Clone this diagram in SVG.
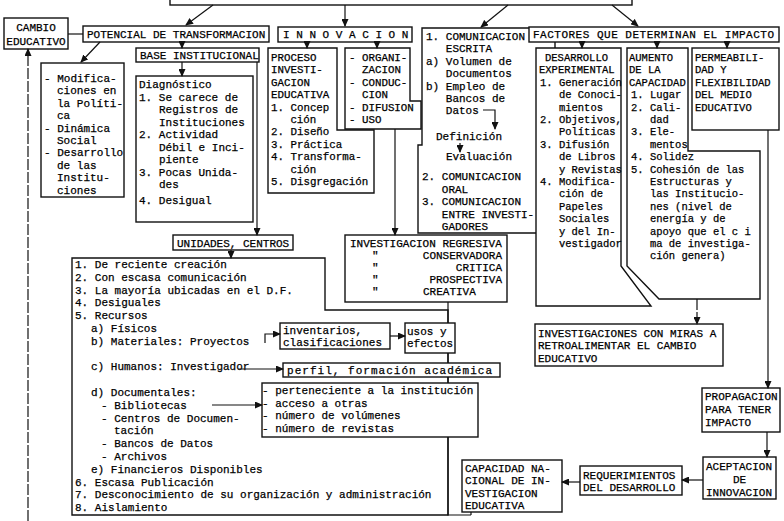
<svg xmlns="http://www.w3.org/2000/svg" width="784" height="521" viewBox="0 0 784 521">
<style>
.t{font-family:"Liberation Mono","DejaVu Sans Mono",monospace;font-size:11px;fill:#000;stroke:#000;stroke-width:0.25}
.s{font-size:10.5px}
.m{font-size:10.8px}
.b{fill:#fff;stroke:#111;stroke-width:1.4}
.c{fill:none;stroke:#111;stroke-width:1.2}
.d{stroke-dasharray:11 2}
</style>
<defs>
<marker id="ah" markerWidth="8" markerHeight="7" refX="7" refY="3.5" orient="auto" markerUnits="userSpaceOnUse"><path d="M0,0 L8,3.5 L0,7 z" fill="#111"/></marker>
</defs>
<rect width="784" height="521" fill="#fff"/>

<g id="top"><rect class="b" x="170" y="-10" width="462" height="15"/></g>

<g id="cambio"><rect class="b" x="4" y="18" width="64" height="31"/>
<text class="t" x="36" y="31" text-anchor="middle">CAMBIO</text>
<text class="t" x="36" y="45" text-anchor="middle">EDUCATIVO</text></g>

<g id="potencial"><rect class="b" x="83" y="26" width="186" height="16"/>
<text class="t" x="87" y="38">POTENCIAL DE TRANSFORMACION</text></g>

<g id="modif"><rect class="b" x="41" y="63" width="83" height="134"/>
<text class="t" x="44" y="82">- Modifica-</text>
<text class="t" x="57" y="94.4">ciones en</text>
<text class="t" x="57" y="106.8">la Políti-</text>
<text class="t" x="57" y="119.2">ca</text>
<text class="t" x="44" y="131.6">- Dinámica</text>
<text class="t" x="57" y="144">Social</text>
<text class="t" x="44" y="156.4">- Desarrollo</text>
<text class="t" x="57" y="168.8">de las</text>
<text class="t" x="57" y="181.2">Institu-</text>
<text class="t" x="57" y="193.6">ciones</text></g>

<g id="base"><rect class="b" x="136" y="48" width="123" height="14"/>
<text class="t" x="140" y="59">BASE INSTITUCIONAL</text></g>

<g id="diag"><rect class="b" x="136" y="76" width="117" height="146"/>
<text class="t" x="139" y="88">Diagnóstico</text>
<text class="t" x="139" y="100.5">1. Se carece de</text>
<text class="t" x="159" y="113">Registros de</text>
<text class="t" x="159" y="125.5">Instituciones</text>
<text class="t" x="139" y="138">2. Actividad</text>
<text class="t" x="159" y="150.5">Débil e Inci-</text>
<text class="t" x="159" y="163">piente</text>
<text class="t" x="139" y="175.5">3. Pocas Unida-</text>
<text class="t" x="159" y="188">des</text>
<text class="t" x="139" y="204">4. Desigual</text></g>

<g id="innovacion"><rect class="b" x="278" y="27" width="134" height="15"/>
<text class="t" x="283" y="38">I N N O V A C I O N</text></g>

<g id="proceso"><path class="b" d="M268,48 H337 V130 H374 V193 H268 Z"/>
<text class="t m" x="271" y="61">PROCESO</text>
<text class="t m" x="271" y="73.4">INVESTI-</text>
<text class="t m" x="271" y="85.8">GACION</text>
<text class="t m" x="271" y="98.2">EDUCATIVA</text>
<text class="t m" x="271" y="110.6">1. Concep</text>
<text class="t m" x="290.4" y="123">ción</text>
<text class="t m" x="271" y="135.4">2. Diseño</text>
<text class="t m" x="271" y="147.8">3. Práctica</text>
<text class="t m" x="271" y="160.2">4. Transforma-</text>
<text class="t m" x="290.4" y="172.6">ción</text>
<text class="t m" x="271" y="185">5. Disgregación</text></g>

<g id="organi"><path class="b" d="M345,48 H410 V101 H421 V129 H345 Z"/>
<text class="t m" x="349" y="61">- ORGANI-</text>
<text class="t m" x="362" y="73.4">ZACION</text>
<text class="t m" x="349" y="85.8">- CONDUC-</text>
<text class="t m" x="362" y="98.2">CION</text>
<text class="t m" x="349" y="110.6">- DIFUSION</text>
<text class="t m" x="349" y="123">- USO</text></g>

<g id="comunicacion"><path class="b" d="M422,28 H555 V233 H418 V145 H422 Z"/>
<text class="t" x="426" y="40">1. COMUNICACION</text>
<text class="t" x="445.8" y="52.4">ESCRITA</text>
<text class="t" x="426" y="64.8">a) Volumen de</text>
<text class="t" x="445.8" y="77.2">Documentos</text>
<text class="t" x="426" y="89.6">b) Empleo de</text>
<text class="t" x="445.8" y="102">Bancos de</text>
<text class="t" x="445.8" y="114.4">Datos</text>
<text class="t" x="436" y="140">Definición</text>
<text class="t" x="446" y="160">Evaluación</text>
<text class="t" x="422" y="180">2. COMUNICACION</text>
<text class="t" x="441.8" y="192.5">ORAL</text>
<text class="t" x="422" y="205">3. COMUNICACION</text>
<text class="t" x="441.8" y="217.5">ENTRE INVESTI-</text>
<text class="t" x="441.8" y="230">GADORES</text></g>

<g id="factores"><rect class="b" x="529" y="27" width="250" height="15"/>
<text class="t" x="533" y="38" textLength="241" lengthAdjust="spacing">FACTORES QUE DETERMINAN EL IMPACTO</text></g>

<g id="desarrollo"><path class="b" d="M536,48 H621 V266 L651,306 H536 Z"/>
<text class="t s" x="545" y="61">DESARROLLO</text>
<text class="t s" x="539" y="73.4">EXPERIMENTAL</text>
<text class="t s" x="540" y="85.8">1. Generación</text>
<text class="t s" x="558.9" y="98.2">de Conoci-</text>
<text class="t s" x="558.9" y="110.6">mientos</text>
<text class="t s" x="540" y="123">2. Objetivos,</text>
<text class="t s" x="558.9" y="135.4">Políticas</text>
<text class="t s" x="540" y="147.8">3. Difusión</text>
<text class="t s" x="558.9" y="160.2">de Libros</text>
<text class="t s" x="558.9" y="172.6">y Revistas</text>
<text class="t s" x="540" y="185">4. Modifica-</text>
<text class="t s" x="558.9" y="197.4">ción de</text>
<text class="t s" x="558.9" y="209.8">Papeles</text>
<text class="t s" x="558.9" y="222.2">Sociales</text>
<text class="t s" x="558.9" y="234.6">y del In-</text>
<text class="t s" x="558.9" y="247">vestigador</text></g>

<g id="aumento"><path class="b" d="M627,48 H688 V151 H760 V299 H659 L627,266 Z"/>
<text class="t s" x="629" y="61">AUMENTO</text>
<text class="t s" x="629" y="73.4">DE LA</text>
<text class="t s" x="629" y="85.8">CAPACIDAD</text>
<text class="t s" x="631" y="98.2">1. Lugar</text>
<text class="t s" x="631" y="110.6">2. Cali-</text>
<text class="t s" x="649.9" y="123">dad</text>
<text class="t s" x="631" y="135.4">3. Ele-</text>
<text class="t s" x="649.9" y="147.8">mentos</text>
<text class="t s" x="631" y="160.2">4. Solidez</text>
<text class="t s" x="631" y="172.6">5. Cohesión de las</text>
<text class="t s" x="649.9" y="185">Estructuras y</text>
<text class="t s" x="649.9" y="197.4">las Institucio-</text>
<text class="t s" x="649.9" y="209.8">nes (nivel de</text>
<text class="t s" x="649.9" y="222.2">energía y de</text>
<text class="t s" x="649.9" y="234.6">apoyo que el c i</text>
<text class="t s" x="649.9" y="247">ma de investiga-</text>
<text class="t s" x="649.9" y="259.4">ción genera)</text></g>

<g id="permeabilidad"><rect class="b" x="692" y="48" width="87" height="82"/>
<text class="t s" x="695" y="61">PERMEABILI-</text>
<text class="t s" x="695" y="73.4">DAD Y</text>
<text class="t s" x="695" y="85.8">FLEXIBILIDAD</text>
<text class="t s" x="695" y="98.2">DEL MEDIO</text>
<text class="t s" x="695" y="110.6">EDUCATIVO</text></g>

<g id="investigaciones-miras"><rect class="b" x="535" y="324" width="188" height="42"/>
<text class="t" x="538" y="336.5">INVESTIGACIONES CON MIRAS A</text>
<text class="t" x="538" y="349">RETROALIMENTAR EL CAMBIO</text>
<text class="t" x="538" y="361.5">EDUCATIVO</text></g>

<g id="unidades"><rect class="b" x="173" y="235" width="120" height="15"/>
<text class="t" x="177" y="246.5">UNIDADES, CENTROS</text></g>

<g id="regresiva"><rect class="b" x="345" y="235" width="162" height="67"/>
<text class="t" x="350" y="247">INVESTIGACION REGRESIVA</text>
<text class="t" x="372" y="259">"</text>
<text class="t" x="372" y="271">"</text>
<text class="t" x="372" y="283">"</text>
<text class="t" x="372" y="295">"</text>
<text class="t" x="502" y="259" text-anchor="end">CONSERVADORA</text>
<text class="t" x="502" y="271" text-anchor="end">CRITICA</text>
<text class="t" x="502" y="283" text-anchor="end">PROSPECTIVA</text>
<text class="t" x="423" y="295">CREATIVA</text></g>

<g id="recursos"><path class="b" d="M72,258 H325 V310 H448 V515 H72 Z"/>
<text class="t" x="75" y="268">1. De reciente creación</text>
<text class="t" x="75" y="280.8">2. Con escasa comunicación</text>
<text class="t" x="75" y="293.6">3. La mayoría ubicadas en el D.F.</text>
<text class="t" x="75" y="306.4">4. Desiguales</text>
<text class="t" x="75" y="319.2">5. Recursos</text>
<text class="t" x="91" y="332">a) Físicos</text>
<text class="t" x="91" y="344.8">b) Materiales: Proyectos</text>
<text class="t" x="91" y="370.4">c) Humanos: Investigador</text>
<text class="t" x="91" y="396">d) Documentales:</text>
<text class="t" x="101" y="408.8">- Bibliotecas</text>
<text class="t" x="101" y="421.6">- Centros de Documen-</text>
<text class="t" x="114" y="434.4">tación</text>
<text class="t" x="101" y="447.2">- Bancos de Datos</text>
<text class="t" x="101" y="460">- Archivos</text>
<text class="t" x="91" y="472.8">e) Financieros Disponibles</text>
<text class="t" x="75" y="485.6">6. Escasa Publicación</text>
<text class="t" x="75" y="498.4">7. Desconocimiento de su organización y administración</text>
<text class="t" x="75" y="511.2">8. Aislamiento</text></g>

<g id="inventarios"><rect class="b" x="280" y="323" width="110" height="26"/>
<text class="t" x="283" y="334">inventarios,</text>
<text class="t" x="283" y="346">clasificaciones</text></g>

<g id="usos"><rect class="b" x="405" y="323" width="50" height="30"/>
<text class="t" x="407" y="335">usos y</text>
<text class="t" x="407" y="347">efectos</text></g>

<g id="perfil"><rect class="b" x="283" y="363" width="217" height="14"/>
<text class="t" x="287" y="374" textLength="205" lengthAdjust="spacing">perfil, formación académica</text></g>

<g id="perteneciente"><rect class="b" x="262" y="383" width="216" height="54"/>
<text class="t" x="262" y="394">- perteneciente a la institución</text>
<text class="t" x="262" y="406.5">- acceso a otras</text>
<text class="t" x="262" y="419">- número de volúmenes</text>
<text class="t" x="262" y="431.5">- número de revistas</text></g>

<g id="propagacion"><rect class="b" x="702" y="388" width="78" height="44"/>
<text class="t" x="705" y="400">PROPAGACION</text>
<text class="t" x="705" y="413">PARA TENER</text>
<text class="t" x="705" y="426">IMPACTO</text></g>

<g id="aceptacion"><rect class="b" x="703" y="457" width="73" height="42"/>
<text class="t" x="706" y="470">ACEPTACION</text>
<text class="t" x="739.5" y="483" text-anchor="middle">DE</text>
<text class="t" x="706" y="496">INNOVACION</text></g>

<g id="requerimientos"><rect class="b" x="580" y="466" width="102" height="29"/>
<text class="t" x="583" y="478.5">REQUERIMIENTOS</text>
<text class="t" x="583" y="491">DEL DESARROLLO</text></g>

<g id="capacidad"><rect class="b" x="462" y="460" width="100" height="52"/>
<text class="t" x="465" y="471.5">CAPACIDAD NA-</text>
<text class="t" x="465" y="484">CIONAL DE IN-</text>
<text class="t" x="465" y="496.5">VESTIGACION</text>
<text class="t" x="465" y="509">EDUCATIVA</text></g>

<g id="connectors">
<path class="c" d="M213,5 L186,25" marker-end="url(#ah)"/>
<path class="c" d="M345,5 V26" marker-end="url(#ah)"/>
<path class="c" d="M508,5 L481,27" marker-end="url(#ah)"/>
<path class="c" d="M612,5 L638,26" marker-end="url(#ah)"/>
<path class="c" d="M68,34 H83"/>
<path class="c" d="M100,42 L81,62" marker-end="url(#ah)"/>
<path class="c" d="M182,42 V48" marker-end="url(#ah)"/>
<path class="c" d="M182,62 V76" marker-end="url(#ah)"/>
<path class="c" d="M257,62 V235" marker-end="url(#ah)"/>
<path class="c" d="M231,250 V258" marker-end="url(#ah)"/>
<path class="c" d="M307,42 V48" marker-end="url(#ah)"/>
<path class="c" d="M377,42 V48" marker-end="url(#ah)"/>
<path class="c" d="M395,129 V235" marker-end="url(#ah)"/>
<path class="c" d="M483,110 H495 V129" marker-end="url(#ah)"/>
<path class="c" d="M460,143 V152" marker-end="url(#ah)"/>
<path class="c" d="M582,42 V48" marker-end="url(#ah)"/>
<path class="c" d="M657,42 V48" marker-end="url(#ah)"/>
<path class="c" d="M727,42 V48" marker-end="url(#ah)"/>
<path class="c d" d="M697,299 V324" marker-end="url(#ah)"/>
<path class="c" d="M768,130 V388" marker-end="url(#ah)"/>
<path class="c" d="M767,432 V457" marker-end="url(#ah)"/>
<path class="c" d="M703,480 H682" marker-end="url(#ah)"/>
<path class="c" d="M580,482 H562" marker-end="url(#ah)"/>
<path class="c" d="M471,512 V515"/>
<path class="c d" d="M28,521 V49" marker-end="url(#ah)"/>
<path class="c" d="M448,302 V323"/>
<path class="c" d="M448,353 V363"/>
<path class="c" d="M448,377 V383"/>
<path class="c" d="M448,437 V515 H471"/>
<path class="c" d="M265,343 V334 H280" marker-end="url(#ah)"/>
<path class="c" d="M390,336 H405" marker-end="url(#ah)"/>
<path class="c" d="M238,369 H283" marker-end="url(#ah)"/>
<path class="c" d="M212,405 H262" marker-end="url(#ah)"/>
</g>
</svg>
